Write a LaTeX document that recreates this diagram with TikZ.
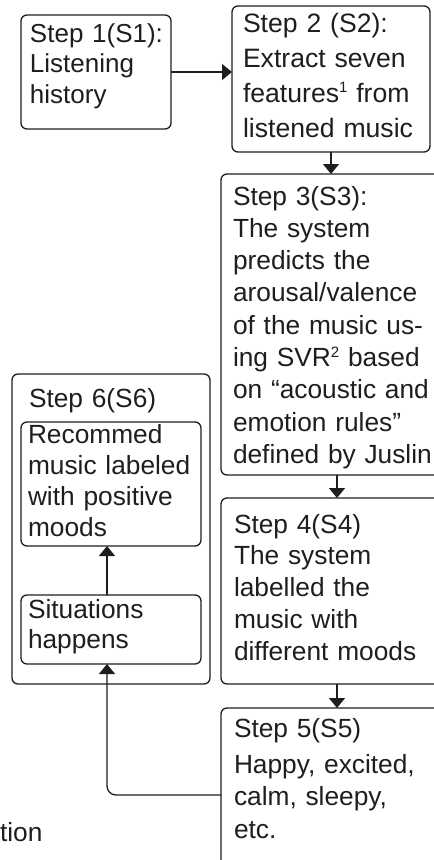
\documentclass[tikz,border=0pt]{standalone}
\usepackage{fontspec}
\setmainfont{Liberation Sans}
\usetikzlibrary{arrows.meta}
\definecolor{ink}{HTML}{1E1E1E}
\newcommand{\fs}[2]{\fontsize{#1}{#2}\selectfont\lineskiplimit=-50pt\relax}
\newcommand{\sups}[1]{\smash{\raisebox{0.36em}{\fontsize{15}{15}\selectfont #1}}}
\tikzset{
  box/.style={draw=ink, line width=1.3pt, rounded corners=6pt, inner sep=0pt, outer sep=0pt, anchor=north west},
  txt/.style={anchor=base west, inner sep=0pt, outer sep=0pt, text=ink, align=left, text width=#1},
  txt/.default=215pt,
  arr/.style={draw=ink, line width=1.3pt, -{Triangle[length=10pt,width=16pt]}},
}
\begin{document}
\begin{tikzpicture}[x=1pt,y=-1pt]
\useasboundingbox (0,0) rectangle (434,860);
\clip (0,0) rectangle (434,860);
% boxes
\node[box, minimum width=150pt, minimum height=114pt] (b1) at (21,15) {};
\node[box, minimum width=198pt, minimum height=146pt] (b2) at (232,6) {};
\node[box, minimum width=232pt, minimum height=301pt] (b3) at (221,174) {};
\node[box, minimum width=232pt, minimum height=186pt] (b4) at (221,498) {};
\node[box, minimum width=232pt, minimum height=200pt] (b5) at (221,708) {};
\node[box, minimum width=198pt, minimum height=310pt] (b6) at (12,374) {};
\node[box, minimum width=180pt, minimum height=124pt] (b6a) at (21,422) {};
\node[box, minimum width=180pt, minimum height=69pt] (b6b) at (21,595) {};
% texts
\node[txt, font=\fs{26}{30.5}] (t1) at (30,42) {Step 1(S1):\\Listening\\history};
\node[txt, font=\fs{26.6}{35}] (t2) at (243,32) {Step 2 (S2):\\Extract seven\\features\sups{1} from\\listened music};
\node[txt, font=\fs{26.3}{32.3}] (t3) at (233,205) {Step 3(S3):\\The system\\predicts the\\arousal/valence\\of the music us-\\ing SVR\sups{2} based\\on “acoustic and\\emotion rules”\\defined by Juslin};
\node[txt, font=\fs{26.3}{31.8}] (t4) at (234,533) {Step 4(S4)\\The system\\labelled the\\music with\\different moods};
\node[txt, font=\fs{26.3}{32.5}] (t5) at (234,737) {Step 5(S5)\\[3.5pt]Happy, excited,\\calm, sleepy,\\etc.};
\node[txt, font=\fs{26.3}{32}] (t6) at (29,407) {Step 6(S6)};
\node[txt, font=\fs{26.3}{31.3}] (t6a) at (28,443) {Recommed\\music labeled\\with positive\\moods};
\node[txt, font=\fs{26.3}{30}] (t6b) at (28,618) {Situations\\happens};
\node[txt=60pt, font=\fs{26.3}{32}] (tion) at (0,841) {tion};
% connectors
\coordinate (c5) at (221,795);
\draw[arr] (b1.east) -- (b1.east -| b2.west);
\draw[arr] (b2.south) -- (b2.south |- b3.north);
\draw[arr] (b3.south) -- (b4.north);
\draw[arr] (b4.south) -- (b5.north);
\draw[arr] ([xshift=-4pt]b6b.north) -- ([xshift=-4pt]b6a.south);
\draw[arr, rounded corners=9pt] (c5) -- (c5 -| 107,0) -- ([xshift=-4pt]b6b.south);
\end{tikzpicture}
\end{document}
